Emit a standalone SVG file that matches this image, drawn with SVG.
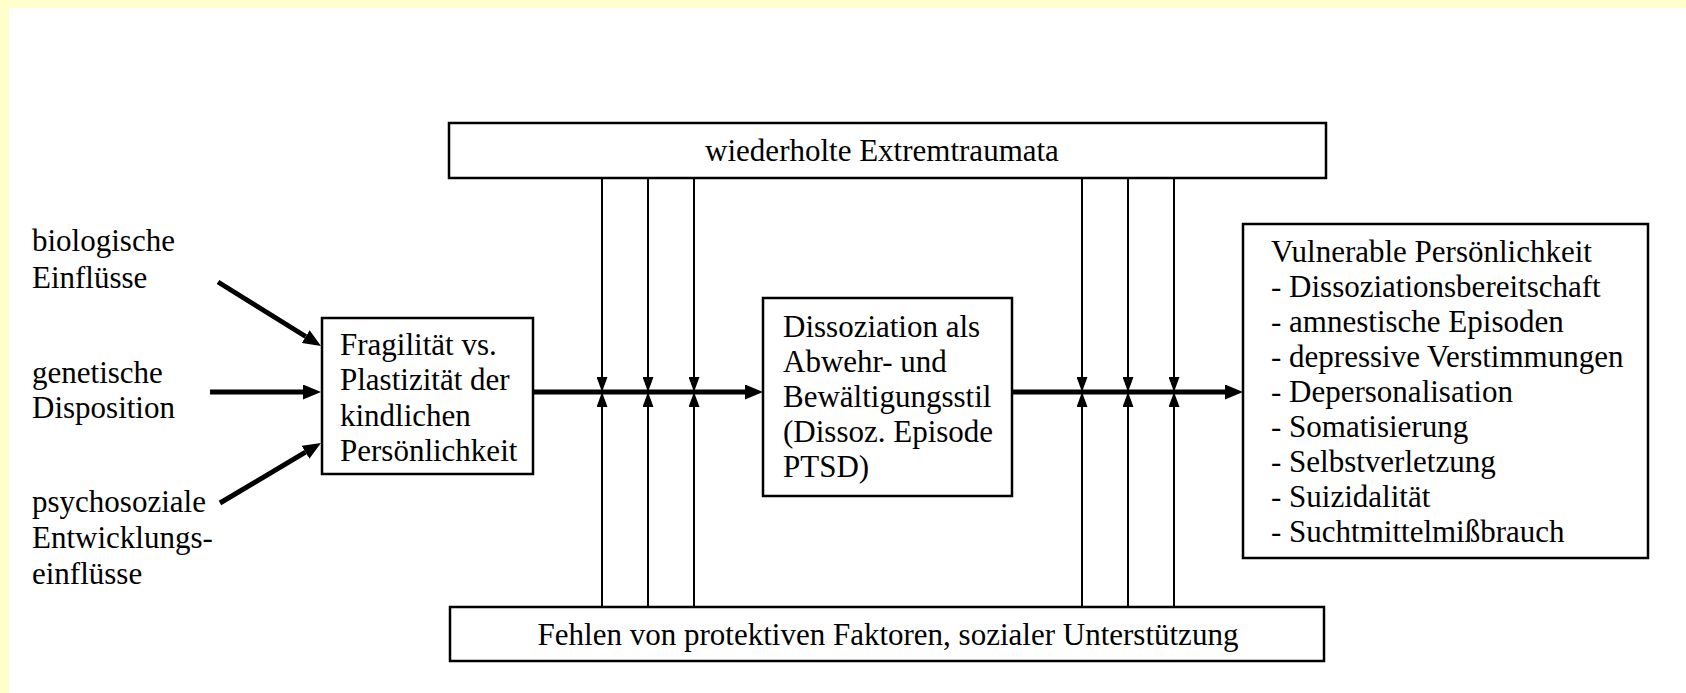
<svg xmlns="http://www.w3.org/2000/svg" width="1686" height="693" viewBox="0 0 1686 693">
<style>
text{font-family:"Liberation Serif","Times New Roman",serif;font-size:31px;fill:#000}
.box{fill:#fff;stroke:#000;stroke-width:2.5}
.thick{stroke:#000;stroke-width:5;fill:none}
.thin{stroke:#000;stroke-width:2;fill:none}
</style>
<defs>
<marker id="ah" markerUnits="userSpaceOnUse" markerWidth="18" markerHeight="15" refX="0" refY="7.5" orient="auto" viewBox="0 0 18 15"><path d="M0,0 L18,7.5 L0,15 z" fill="#000"/></marker>
<marker id="at" markerUnits="userSpaceOnUse" markerWidth="15" markerHeight="11" refX="0" refY="5.5" orient="auto" viewBox="0 0 15 11"><path d="M0,0 L15,5.5 L0,11 z" fill="#000"/></marker>
</defs>
<rect x="0" y="0" width="1686" height="693" fill="#FFFFCC"/>
<rect x="9" y="8" width="1677" height="685" fill="#fff"/>

<g id="connectors">
<line class="thick" x1="218" y1="282" x2="305.7" y2="336.5" marker-end="url(#ah)"/>
<line class="thick" x1="210" y1="392" x2="303" y2="392" marker-end="url(#ah)"/>
<line class="thick" x1="220" y1="503" x2="305.5" y2="452.2" marker-end="url(#ah)"/>
<line class="thick" x1="533" y1="392" x2="745" y2="392" marker-end="url(#ah)"/>
<line class="thick" x1="1012" y1="392" x2="1225" y2="392" marker-end="url(#ah)"/>
<line class="thin" x1="602" y1="178" x2="602" y2="377" marker-end="url(#at)"/>
<line class="thin" x1="648" y1="178" x2="648" y2="377" marker-end="url(#at)"/>
<line class="thin" x1="694" y1="178" x2="694" y2="377" marker-end="url(#at)"/>
<line class="thin" x1="1082" y1="178" x2="1082" y2="377" marker-end="url(#at)"/>
<line class="thin" x1="1128" y1="178" x2="1128" y2="377" marker-end="url(#at)"/>
<line class="thin" x1="1174" y1="178" x2="1174" y2="377" marker-end="url(#at)"/>
<line class="thin" x1="602" y1="607" x2="602" y2="407" marker-end="url(#at)"/>
<line class="thin" x1="648" y1="607" x2="648" y2="407" marker-end="url(#at)"/>
<line class="thin" x1="694" y1="607" x2="694" y2="407" marker-end="url(#at)"/>
<line class="thin" x1="1082" y1="607" x2="1082" y2="407" marker-end="url(#at)"/>
<line class="thin" x1="1128" y1="607" x2="1128" y2="407" marker-end="url(#at)"/>
<line class="thin" x1="1174" y1="607" x2="1174" y2="407" marker-end="url(#at)"/>
</g>

<g id="bio"><text x="32" y="251">biologische</text><text x="32" y="288">Einflüsse</text></g>
<g id="gen"><text x="32" y="383">genetische</text><text x="32" y="418">Disposition</text></g>
<g id="psy"><text x="32" y="512">psychosoziale</text><text x="32" y="548">Entwicklungs-</text><text x="32" y="584">einflüsse</text></g>

<g id="top"><rect class="box" x="449" y="123" width="877" height="55"/><text x="882" y="161" text-anchor="middle">wiederholte Extremtraumata</text></g>
<g id="bottom"><rect class="box" x="450" y="607" width="874" height="54"/><text x="888" y="645" text-anchor="middle">Fehlen von protektiven Faktoren, sozialer Unterstützung</text></g>

<g id="frag"><rect class="box" x="322" y="318" width="211" height="156"/>
<text x="340" y="355">Fragilität vs.</text><text x="340" y="390">Plastizität der</text><text x="340" y="426">kindlichen</text><text x="340" y="461">Persönlichkeit</text></g>

<g id="diss"><rect class="box" x="763" y="298" width="249" height="198"/>
<text x="783" y="337">Dissoziation als</text><text x="783" y="372">Abwehr- und</text><text x="783" y="407">Bewältigungsstil</text><text x="783" y="442">(Dissoz. Episode</text><text x="783" y="477">PTSD)</text></g>

<g id="vuln"><rect class="box" x="1243" y="224" width="405" height="334"/>
<text x="1271" y="262">Vulnerable Persönlichkeit</text>
<text x="1271" y="297">- Dissoziationsbereitschaft</text>
<text x="1271" y="332">- amnestische Episoden</text>
<text x="1271" y="367">- depressive Verstimmungen</text>
<text x="1271" y="402">- Depersonalisation</text>
<text x="1271" y="437">- Somatisierung</text>
<text x="1271" y="472">- Selbstverletzung</text>
<text x="1271" y="507">- Suizidalität</text>
<text x="1271" y="542">- Suchtmittelmißbrauch</text></g>
</svg>
